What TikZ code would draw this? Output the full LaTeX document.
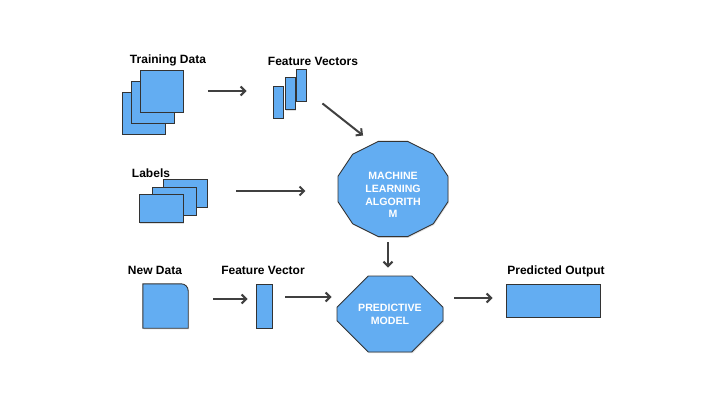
\documentclass[tikz,border=0pt]{standalone}
\usepackage{fontspec}
\setmainfont{Liberation Sans}
\usetikzlibrary{arrows.meta,shapes.geometric,shapes.misc,shadows}
\definecolor{boxblue}{RGB}{99,173,242}
\definecolor{edgegray}{RGB}{51,51,51}
\definecolor{arrowgray}{RGB}{64,64,64}

\begin{document}
\begin{tikzpicture}[x=1pt, y=1pt,
    box/.style={draw=edgegray, fill=boxblue, line width=0.9pt, inner sep=0pt,
        drop shadow={opacity=0.25, shadow xshift=0.8pt, shadow yshift=-1.2pt}},
    heading/.style={font=\fontsize{12}{14}\selectfont\bfseries},
    innertext/.style={font=\fontsize{10.6}{12.8}\selectfont\bfseries, text=white, align=center},
    flow/.style={draw=arrowgray, line width=2pt, -{Straight Barb[length=4.5pt, width=9pt]}}]
        \useasboundingbox (0,0) rectangle (720,405);

        % Training data
        \node[heading] (tdlabel) at (168,345) {Training Data};
        \node[box, minimum width=43pt, minimum height=42pt] (td1) at (144,292) {};
        \node[box, minimum width=43pt, minimum height=42pt] (td2) at (153,303) {};
        \node[box, minimum width=43pt, minimum height=42pt] (td3) at (162,314) {};

        % Feature vectors
        \node[heading] (fvlabel) at (313,344) {Feature Vectors};
        \node[box, minimum width=10pt, minimum height=32pt] (fv1) at (278,303) {};
        \node[box, minimum width=10pt, minimum height=32pt] (fv2) at (290,311.5) {};
        \node[box, minimum width=10pt, minimum height=32pt] (fv3) at (301,320) {};

        % Labels
        \node[heading] (lblabel) at (151,232) {Labels};
        \node[box, minimum width=44pt, minimum height=28pt] (lb1) at (185,212) {};
        \node[box, minimum width=44pt, minimum height=28pt] (lb2) at (174,204) {};
        \node[box, minimum width=44pt, minimum height=28pt] (lb3) at (161,196.5) {};

        % Machine learning algorithm
        \node[box, regular polygon, regular polygon sides=12, minimum size=98.5pt, xscale=1.156] (mla) at (393,216) {};
        \node[innertext] (mlatext) at (393,210) {MACHINE\\LEARNING\\ALGORITH\\M};

        % New data
        \node[heading] (ndlabel) at (155,135) {New Data};
        \node[minimum width=45pt, minimum height=44pt, inner sep=0pt] (nd) at (165.5,99) {};
        \draw[box] (nd.south west) -- (nd.north west) [rounded corners=7pt] -- (nd.north east) [sharp corners] -- (nd.south east) -- cycle;

        % Feature vector
        \node[heading] (fveclabel) at (263,135) {Feature Vector};
        \node[box, minimum width=16pt, minimum height=44pt] (fvec) at (264,99) {};

        % Predictive model
        \node[box, chamfered rectangle, chamfered rectangle xsep=22pt, chamfered rectangle ysep=21pt,
            minimum width=106pt, minimum height=76pt, innertext] (pm) at (390,91) {PREDICTIVE\\MODEL};

        % Predicted output
        \node[heading] (outlabel) at (556,134) {Predicted Output};
        \node[box, minimum width=94pt, minimum height=33pt] (out) at (553,104.5) {};

        % Connections
        \draw[flow, shorten <=24pt, shorten >=26pt] (td3.east) -- (td3.east -| fv1.west);
        \draw[flow] ([xshift=16pt,yshift=-2pt]fv3.south east) -- ([xshift=2pt,yshift=14pt]mla.125);
        \draw[flow, shorten <=29pt, shorten >=32pt] ([yshift=2pt]lb1.east) -- ([yshift=2pt]lb1.east -| mla.west);
        \draw[flow, shorten <=5pt, shorten >=8pt] ([xshift=-5pt]mla.south) -- ([xshift=-5pt]mla.south |- pm.north);
        \draw[flow, shorten <=25pt, shorten >=8pt] ([yshift=7pt]nd.east) -- ([yshift=7pt]nd.east -| fvec.west);
        \draw[flow, shorten <=13pt, shorten >=5pt] ([yshift=9pt]fvec.east) -- ([yshift=9pt]fvec.east -| pm.west);
        \draw[flow, shorten <=11pt, shorten >=13pt] ([yshift=16pt]pm.east) -- ([yshift=16pt]pm.east -| out.west);
    \end{tikzpicture}
\end{document}
